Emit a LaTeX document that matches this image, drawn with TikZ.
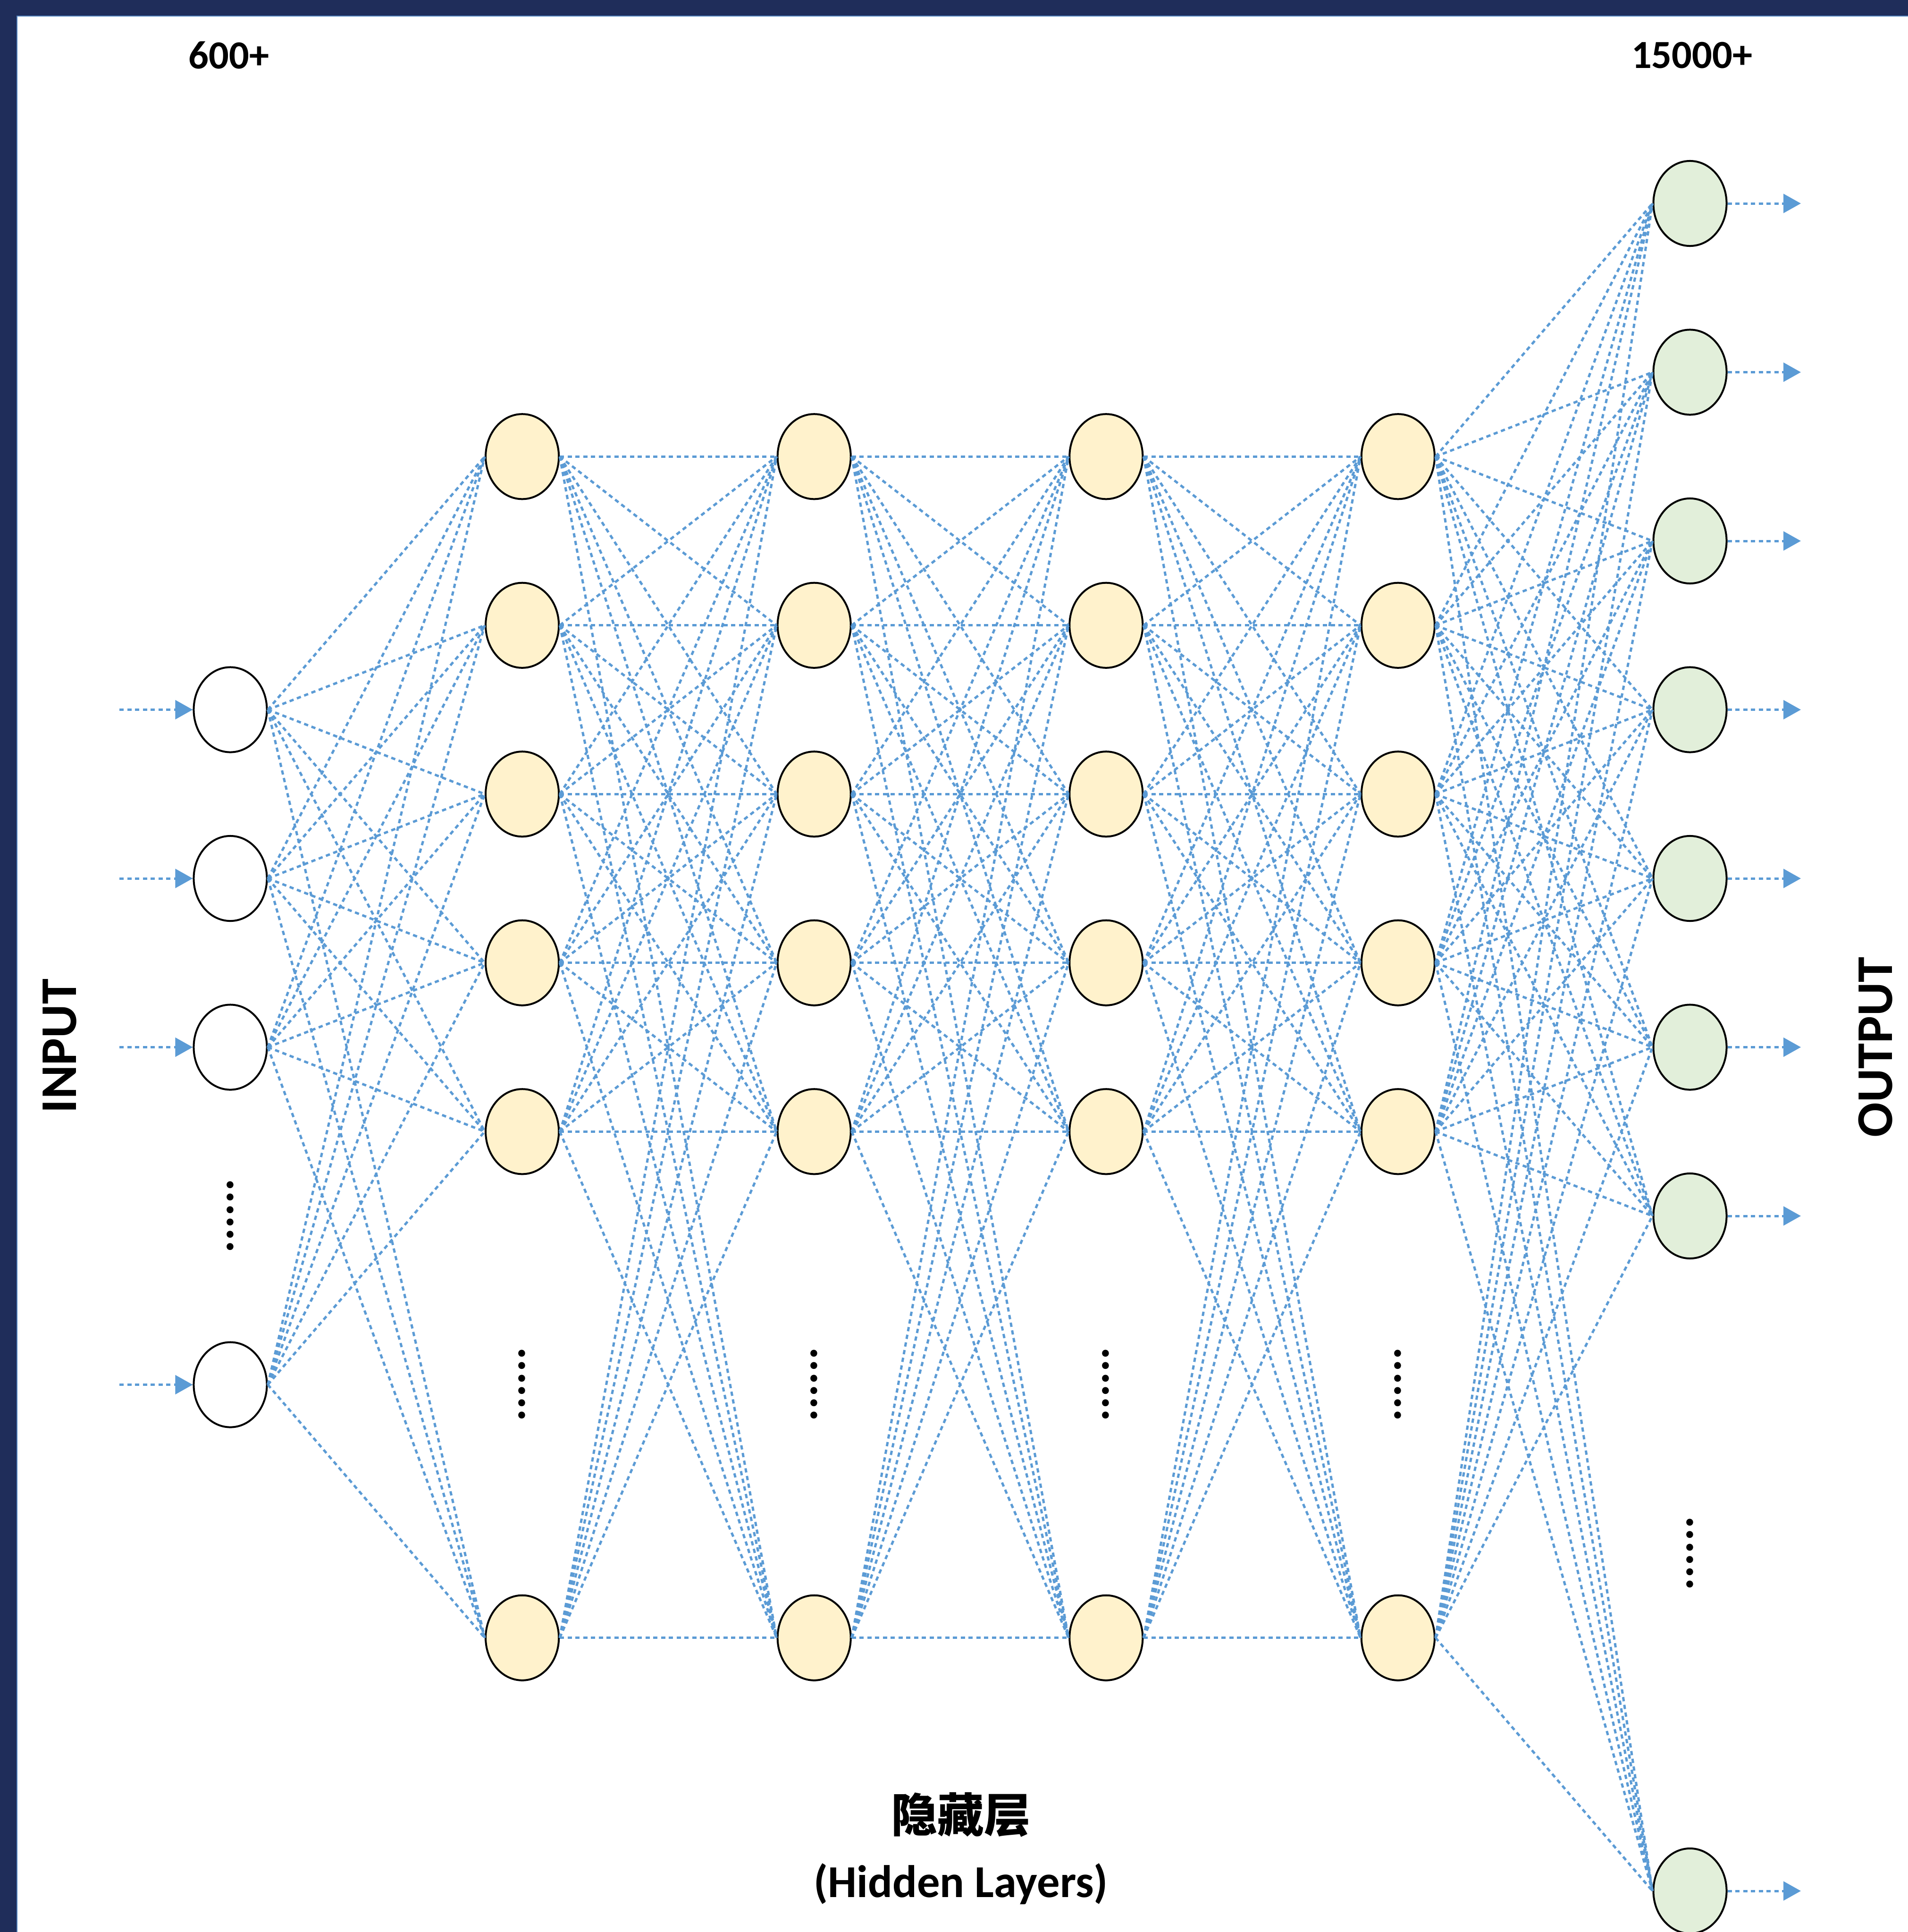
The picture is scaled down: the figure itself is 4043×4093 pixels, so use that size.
\documentclass[tikz,border=0pt]{standalone}
\usepackage{fontspec}
\setmainfont{Carlito}
\newfontfamily\cjkfont{Noto Sans CJK SC}
\usetikzlibrary{arrows.meta,shapes.geometric}
\definecolor{navyband}{RGB}{31,45,90}
\definecolor{edgeblue}{RGB}{79,129,189}
\definecolor{linkblue}{RGB}{91,155,213}
\definecolor{hidfill}{RGB}{255,242,204}
\definecolor{outfill}{RGB}{226,239,218}
\begin{document}
\begin{tikzpicture}[x=0.01cm,y=-0.01cm,
  neuron/.style={ellipse, draw=black, line width=0.04cm, minimum width=1.55cm, minimum height=1.8cm, inner sep=0pt},
  innode/.style={neuron, fill=white},
  hidnode/.style={neuron, fill=hidfill},
  outnode/.style={neuron, fill=outfill},
  link/.style={draw=linkblue, line width=0.05cm, dash pattern=on 0.09cm off 0.075cm},
  flow/.style={link, -{Triangle[length=0.37cm,width=0.4cm]}},
  vdots/.style={font=\bfseries\fontsize{28}{28}\selectfont, rotate=90, inner sep=0pt, anchor=base},
  countlabel/.style={font=\bfseries\fontsize{24}{24}\selectfont, inner sep=0pt},
  sidelabel/.style={font=\bfseries\fontsize{31}{31}\selectfont, rotate=90, inner sep=0pt}
]
\useasboundingbox (0,0) rectangle (4043,4093);
\fill[white] (0,0) rectangle (4043,4093);
\fill[navyband] (0,0) rectangle (4043,34);
\fill[navyband] (0,0) rectangle (36,4093);
\draw[edgeblue, line width=0.02cm] (36,4093) -- (36,34) -- (4043,34);

% input nodes
\foreach \k [count=\i] in {3,4,5,7}
  \node[innode] (i\i) at (488,{431+357.5*\k}) {};
% hidden nodes
\foreach \c in {1,2,3,4}
  \foreach \k [count=\r] in {1.5,2.5,3.5,4.5,5.5,8.5}
    \node[hidnode] (h\c-\r) at ({488+618.6*\c},{431+357.5*\k}) {};
% output nodes
\foreach \k [count=\i] in {0,1,2,3,4,5,6,10}
  \node[outnode] (o\i) at (3581,{431+357.5*\k}) {};

% links
\foreach \a in {1,...,4}
  \foreach \b in {1,...,6}
    \draw[link] (i\a.east) -- (h1-\b.west);
\foreach \c [evaluate=\c as \n using int(\c+1)] in {1,2,3}
  \foreach \a in {1,...,6}
    \foreach \b in {1,...,6}
      \draw[link] (h\c-\a.east) -- (h\n-\b.west);
\foreach \a in {1,...,6}
  \foreach \b in {1,...,8}
    \draw[link] (h4-\a.east) -- (o\b.west);

% input arrows
\foreach \k [count=\i] in {3,4,5,7} {
  \coordinate (ia\i) at (253,{431+357.5*\k});
  \draw[flow] (ia\i) -- (i\i.west);
}
% output arrows
\foreach \k [count=\i] in {0,1,2,3,4,5,6,10} {
  \coordinate (oa\i) at (3816,{431+357.5*\k});
  \draw[flow] (o\i.east) -- (oa\i);
}

% vertical ellipses
\node[vdots] (dots-in) at (494,2576) {......};
\foreach \c in {1,2,3,4}
  \node[vdots] (dots-h\c) at ({494+618.6*\c},2933) {......};
\node[vdots] (dots-out) at (3587,3291) {......};

% labels
\node[countlabel] (count-in) at (485,117) {600+};
\node[countlabel] (count-out) at (3585,117) {15000+};
\node[sidelabel] (lbl-in) at (127,2216) {INPUT};
\node[sidelabel] (lbl-out) at (3974,2218) {OUTPUT};
\node[font=\cjkfont\bfseries\fontsize{28}{28}\selectfont, inner sep=0pt] (lbl-hid-cn) at (2036,3845) {隐藏层};
\node[font=\bfseries\fontsize{27.5}{27.5}\selectfont, inner sep=0pt] (lbl-hid-en) at (2036,3991) {(Hidden Layers)};
\end{tikzpicture}
\end{document}
